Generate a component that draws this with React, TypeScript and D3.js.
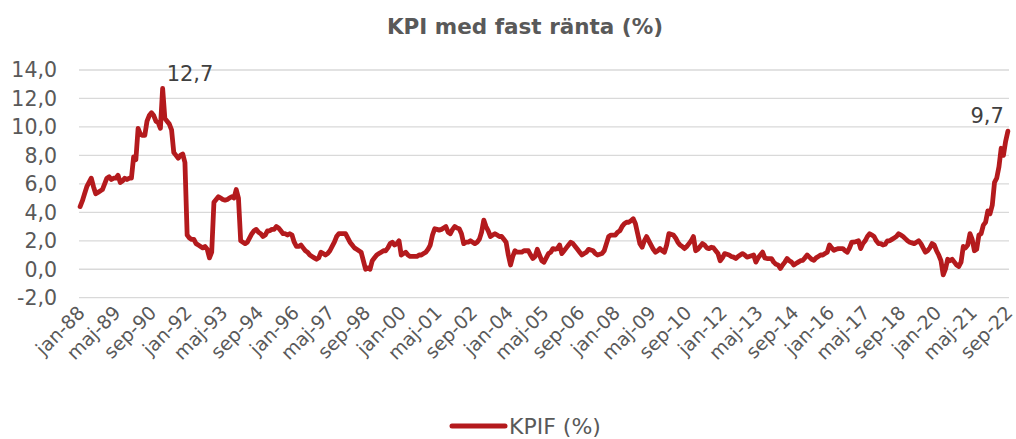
import React from "react";
import * as d3 from "d3";

const MONTHS = ["jan", "feb", "mar", "apr", "maj", "jun", "jul", "aug", "sep", "okt", "nov", "dec"];
const START_YEAR = 1988;

// KPIF (%) monthly values
const v1988 = [4.4, 4.8, 5.3, 5.8, 6.1, 6.4, 5.8, 5.3, 5.4, 5.5, 5.6, 6.0];
const v1989 = [6.4, 6.5, 6.3, 6.4, 6.4, 6.6, 6.1, 6.2, 6.4, 6.3, 6.4, 6.4];
const v1990 = [7.9, 7.7, 9.9, 9.5, 9.4, 9.4, 10.4, 10.8, 11.0, 10.8, 10.4, 10.3];
const v1991 = [9.9, 12.7, 10.6, 10.4, 10.2, 9.8, 8.2, 8.0, 7.8, 8.0, 8.1, 7.5];
const v1992 = [2.4, 2.2, 2.1, 2.1, 1.8, 1.7, 1.6, 1.5, 1.6, 1.4, 0.8, 1.2];
const v1993 = [4.7, 4.9, 5.1, 5.0, 4.9, 4.85, 4.9, 5.0, 5.1, 5.0, 5.6, 5.0];
const v1994 = [2.0, 1.9, 1.8, 1.9, 2.2, 2.5, 2.7, 2.8, 2.6, 2.5, 2.3, 2.4];
const v1995 = [2.7, 2.7, 2.8, 2.8, 3.0, 2.9, 2.7, 2.5, 2.5, 2.4, 2.5, 2.4];
const v1996 = [1.9, 1.6, 1.6, 1.7, 1.5, 1.3, 1.2, 1.0, 0.9, 0.8, 0.7, 0.8];
const v1997 = [1.2, 1.1, 1.0, 1.1, 1.3, 1.6, 1.9, 2.3, 2.5, 2.5, 2.5, 2.5];
const v1998 = [2.2, 1.9, 1.7, 1.5, 1.4, 1.3, 1.2, 0.6, 0.0, 0.1, 0.0, 0.6];
const v1999 = [0.8, 1.0, 1.1, 1.2, 1.3, 1.3, 1.5, 1.8, 1.9, 1.7, 1.8, 2.0];
const v2000 = [1.0, 1.1, 1.2, 1.0, 0.9, 0.9, 0.9, 0.9, 1.0, 1.0, 1.1, 1.2];
const v2001 = [1.4, 1.7, 2.4, 2.85, 2.8, 2.75, 2.8, 2.9, 3.0, 2.6, 2.5, 2.8];
const v2002 = [3.0, 2.9, 2.85, 2.5, 1.8, 1.9, 1.9, 2.0, 1.9, 1.8, 1.9, 2.1];
const v2003 = [2.6, 3.45, 3.0, 2.7, 2.3, 2.4, 2.5, 2.4, 2.3, 2.3, 2.1, 1.9];
const v2004 = [1.0, 0.3, 0.9, 1.3, 1.2, 1.2, 1.2, 1.3, 1.3, 1.3, 1.0, 0.75];
const v2005 = [0.9, 1.4, 1.0, 0.6, 0.5, 0.8, 1.1, 1.2, 1.45, 1.4, 1.45, 1.7];
const v2006 = [1.1, 1.3, 1.5, 1.7, 1.9, 1.8, 1.6, 1.4, 1.2, 1.0, 1.1, 1.2];
const v2007 = [1.4, 1.35, 1.3, 1.1, 1.0, 1.05, 1.1, 1.3, 1.8, 2.3, 2.4, 2.4];
const v2008 = [2.4, 2.6, 2.7, 3.0, 3.2, 3.3, 3.3, 3.4, 3.55, 3.2, 2.5, 1.8];
const v2009 = [1.55, 2.0, 2.3, 2.0, 1.7, 1.4, 1.2, 1.3, 1.45, 1.3, 1.2, 1.7];
const v2010 = [2.5, 2.45, 2.4, 2.2, 1.9, 1.7, 1.6, 1.45, 1.6, 1.8, 2.0, 2.3];
const v2011 = [1.3, 1.4, 1.6, 1.8, 1.7, 1.5, 1.45, 1.55, 1.5, 1.3, 1.1, 0.6];
const v2012 = [0.8, 1.1, 1.05, 1.0, 0.9, 0.85, 0.75, 0.9, 1.0, 1.1, 1.0, 0.85];
const v2013 = [0.9, 0.95, 1.0, 0.5, 0.8, 1.0, 1.2, 0.8, 0.75, 0.75, 0.75, 0.5];
const v2014 = [0.35, 0.3, 0.05, 0.3, 0.5, 0.75, 0.6, 0.5, 0.3, 0.4, 0.5, 0.6];
const v2015 = [0.63, 0.8, 1.0, 0.85, 0.7, 0.63, 0.8, 0.9, 1.0, 1.0, 1.1, 1.2];
const v2016 = [1.7, 1.5, 1.33, 1.4, 1.45, 1.45, 1.45, 1.3, 1.2, 1.5, 1.9, 1.9];
const v2017 = [1.95, 2.0, 1.45, 1.8, 2.0, 2.3, 2.5, 2.4, 2.3, 2.0, 1.8, 1.8];
const v2018 = [1.7, 1.75, 2.0, 2.0, 2.1, 2.2, 2.3, 2.5, 2.4, 2.3, 2.15, 2.0];
const v2019 = [1.9, 1.85, 1.8, 1.9, 2.0, 1.8, 1.5, 1.2, 1.3, 1.5, 1.8, 1.7];
const v2020 = [1.3, 1.0, 0.6, -0.4, 0.0, 0.7, 0.6, 0.7, 0.5, 0.3, 0.2, 0.5];
const v2021 = [1.6, 1.5, 1.7, 2.5, 2.1, 1.3, 1.4, 2.4, 2.5, 3.1, 3.3, 4.1];
const v2022 = [3.9, 4.5, 6.1, 6.4, 7.2, 8.5, 8.0, 9.0, 9.7];

const kpif: number[] = [
  ...v1988, ...v1989, ...v1990, ...v1991, ...v1992, ...v1993, ...v1994,
  ...v1995, ...v1996, ...v1997, ...v1998, ...v1999, ...v2000, ...v2001,
  ...v2002, ...v2003, ...v2004, ...v2005, ...v2006, ...v2007, ...v2008,
  ...v2009, ...v2010, ...v2011, ...v2012, ...v2013, ...v2014, ...v2015,
  ...v2016, ...v2017, ...v2018, ...v2019, ...v2020, ...v2021, ...v2022,
];

const categories: string[] = kpif.map((_, i) => {
  const y = START_YEAR + Math.floor(i / 12);
  return `${MONTHS[i % 12]}-${String(y % 100).padStart(2, "0")}`;
});

const tickLabels = [
  "jan-88", "maj-89", "sep-90", "jan-92", "maj-93", "sep-94", "jan-96", "maj-97", "sep-98",
  "jan-00", "maj-01", "sep-02", "jan-04", "maj-05", "sep-06", "jan-08", "maj-09", "sep-10",
  "jan-12", "maj-13", "sep-14", "jan-16", "maj-17", "sep-18", "jan-20", "maj-21", "sep-22",
];
const yTicks = [-2, 0, 2, 4, 6, 8, 10, 12, 14];
const annotated = ["feb-91", "sep-22"];

const W = 1016;
const H = 439;
const FONT = "'DejaVu Sans', Verdana, sans-serif";
const RED = "#B41A1D";
const GRAY = "#595959";

export default function App() {
  const x = d3.scaleBand<string>().domain(categories).range([79, 1009]);
  const y = d3.scaleLinear().domain([-2, 14]).range([297.7, 70]);
  const cx = (c: string) => (x(c) ?? 0) + x.bandwidth() / 2;
  const fmt = (v: number) => v.toFixed(1).replace(".", ",");

  const line = d3
    .line<number>()
    .x((_, i) => cx(categories[i]))
    .y((d) => y(d))
    .curve(d3.curveLinear);

  return (
    <svg width={W} height={H} style={{ position: "absolute", left: 0, top: 0 }} fontFamily={FONT}>
      <rect width={W} height={H} fill="#fff" />
      <text x={525} y={34} textAnchor="middle" fontSize={21.5} fontWeight="bold" fill={GRAY}>
        KPI med fast ränta (%)
      </text>
      {yTicks.map((t) => (
        <g key={t}>
          <line x1={79} x2={1009} y1={y(t)} y2={y(t)} stroke="#D9D9D9" strokeWidth={1.3} />
          <text x={57} y={y(t)} dy="0.36em" textAnchor="end" fontSize={20.5} fill={GRAY}>
            {fmt(t)}
          </text>
        </g>
      ))}
      {tickLabels.map((l) => (
        <text
          key={l}
          transform={`translate(${cx(l) + 6},${314}) rotate(-45)`}
          textAnchor="end"
          fontSize={19}
          fill={GRAY}
        >
          {l}
        </text>
      ))}
      <path d={line(kpif) ?? ""} fill="none" stroke={RED} strokeWidth={4.8} strokeLinejoin="round" strokeLinecap="round" />
      {annotated.map((c) => {
        const i = categories.indexOf(c);
        return (
          <text key={c} x={cx(c) - 4} y={y(kpif[i]) - 8} fontSize={21} fill="#404040" textAnchor={i > 400 ? "end" : "start"} dx={i > 400 ? 0 : 8}>
            {fmt(kpif[i])}
          </text>
        );
      })}
      <line x1={452} x2={505} y1={426} y2={426} stroke={RED} strokeWidth={5} strokeLinecap="round" />
      <text x={509} y={434} fontSize={22} fill={GRAY}>
        KPIF (%)
      </text>
    </svg>
  );
}
